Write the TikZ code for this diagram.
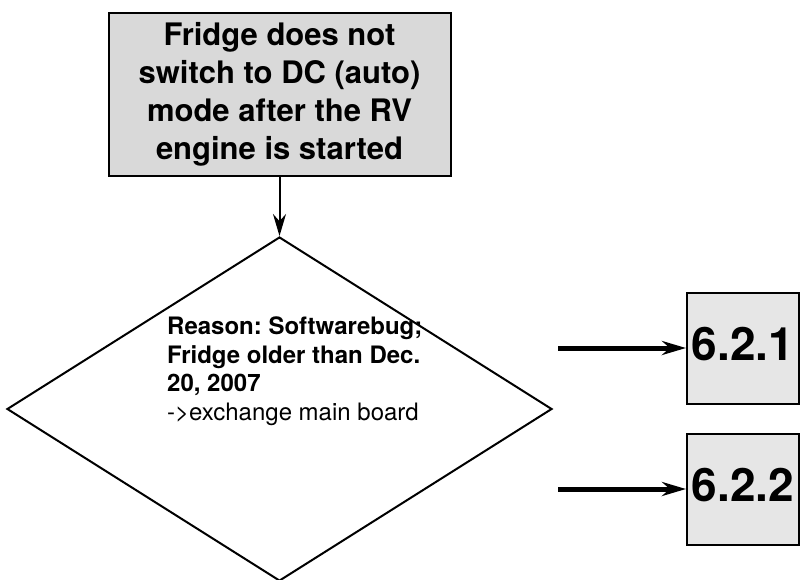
\documentclass[tikz,border=0pt]{standalone}
\usepackage{fontspec}
\setmainfont{TeX Gyre Heros}
\usepackage{tikz}
\usetikzlibrary{shapes.geometric, arrows.meta, positioning}
\definecolor{boxgray}{RGB}{217, 217, 217}
\definecolor{refgray}{RGB}{230, 230, 230}
\frenchspacing

\tikzset{
  problembox/.style={draw, line width=2pt, fill=boxgray, minimum width=342pt, minimum height=163pt, align=center, font=\fontsize{31}{38}\selectfont\bfseries},
  decisionbox/.style={draw, diamond, line width=2pt, minimum width=545pt, minimum height=344pt, inner sep=0pt},
  reasontext/.style={inner sep=0pt, align=left, font=\fontsize{24}{28.7}\selectfont},
  refbox/.style={draw, line width=2pt, fill=refgray, minimum width=112pt, minimum height=111pt, text depth=8pt, font=\fontsize{46}{46}\selectfont\bfseries},
  thinarrow/.style={line width=2pt, -{Stealth[length=22pt, width=13pt]}},
  thickarrow/.style={line width=5pt, -{Stealth[length=24pt, width=14pt]}}
}

\begin{document}
\begin{tikzpicture}[x=1pt, y=-1pt]
\useasboundingbox (0,0) rectangle (801,579);

% Problem statement
\node[problembox] (problem) at (279.5,94.5) {Fridge does not\\switch to DC (auto)\\mode after the RV\\engine is started};

% Decision
\node[decisionbox] (decision) at (279.5,409) {};
\node[reasontext, anchor=north west] (reason) at (167,316.5) {\textbf{Reason: Softwarebug;}\\\textbf{Fridge older than Dec.}\\\textbf{20, 2007}\\->exchange main board};
\draw[thinarrow] (problem.south) -- (decision.north);

% References
\node[refbox] (sec1) at (743,348) {6.2.1};
\node[refbox] (sec2) at (743,489) {6.2.2};
\coordinate (from1) at (558,348);
\coordinate (from2) at (558,489);
\draw[thickarrow] (from1) -- (sec1.west);
\draw[thickarrow] (from2) -- (sec2.west);
\end{tikzpicture}
\end{document}
